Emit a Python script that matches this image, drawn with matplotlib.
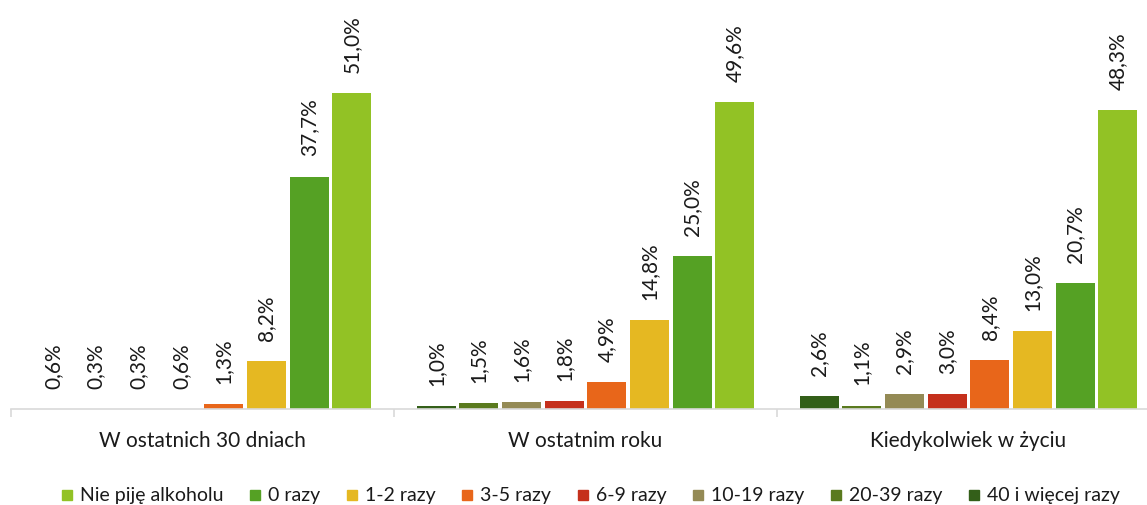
import matplotlib.pyplot as plt
import numpy as np
from matplotlib.lines import Line2D

plt.rcParams['font.family'] = ['Lato', 'DejaVu Sans']

groups = ['W ostatnich 30 dniach', 'W ostatnim roku', 'Kiedykolwiek w życiu']
series = ['Nie piję alkoholu', '0 razy', '1-2 razy', '3-5 razy', '6-9 razy',
          '10-19 razy', '20-39 razy', '40 i więcej razy']
colors = ['#92C225', '#55A124', '#E5B822', '#E8661A', '#C5301C',
          '#948A55', '#5A7A1E', '#335F19']

# values per series, for the three groups
nie_pije = [51.0, 49.6, 48.3]
razy_0 = [37.7, 25.0, 20.7]
razy_1_2 = [8.2, 14.8, 13.0]
razy_3_5 = [1.3, 4.9, 8.4]
razy_6_9 = [0.6, 1.8, 3.0]
razy_10_19 = [0.3, 1.6, 2.9]
razy_20_39 = [0.3, 1.5, 1.1]
razy_40 = [0.6, 1.0, 2.6]

values = [nie_pije, razy_0, razy_1_2, razy_3_5, razy_6_9,
          razy_10_19, razy_20_39, razy_40]

fig = plt.figure(figsize=(11.47, 5.05), dpi=100)
ax = fig.add_axes([11 / 1147, 96 / 505, 1149 / 1147, 409 / 505])

ymin = 0.56
ax.set_ylim(ymin, ymin + 409 / 6.26)
ax.set_xlim(-0.5, 2.5)

step = 0.1115
width = 0.102
x = np.arange(len(groups))
n = len(series)
# bars drawn in reverse order within group (40+ first, Nie piję last)
for i in range(n):
    pos = n - 1 - i
    off = (pos - (n - 1) / 2) * step
    ax.bar(x + off, values[i], width, color=colors[i], label=series[i], zorder=2)
    for xi, v in zip(x + off, values[i]):
        ax.annotate(f'{v:.1f}%'.replace('.', ','), (xi, max(v, ymin)),
                    xytext=(0, 14.5), textcoords='offset points',
                    rotation=90, ha='center', va='bottom',
                    fontsize=15, color='#1a1a1a')

for s in ['top', 'right', 'left']:
    ax.spines[s].set_visible(False)
ax.spines['bottom'].set_color('#d9d9d9')
ax.spines['bottom'].set_linewidth(1.2)
ax.set_yticks([])
ax.set_xticks([-0.5, 0.5, 1.5, 2.5])
ax.set_xticklabels([])
ax.tick_params(axis='x', which='major', length=6, color='#d9d9d9', width=1.2)
ax.set_xticks(x, minor=True)
ax.set_xticklabels(groups, minor=True)
ax.tick_params(axis='x', which='minor', length=0, pad=16, labelsize=15,
               labelcolor='#1a1a1a')

handles = [Line2D([], [], marker='s', linestyle='', markersize=7,
                  color=c) for c in colors]
fig.legend(handles, series, loc='center', bbox_to_anchor=(590 / 1147, 1 - 496 / 505),
           ncol=8, frameon=False, fontsize=14, handlelength=0.7,
           handletextpad=0.3, columnspacing=1.3, labelcolor='#1a1a1a')

fig.savefig('out.png', dpi=100)
